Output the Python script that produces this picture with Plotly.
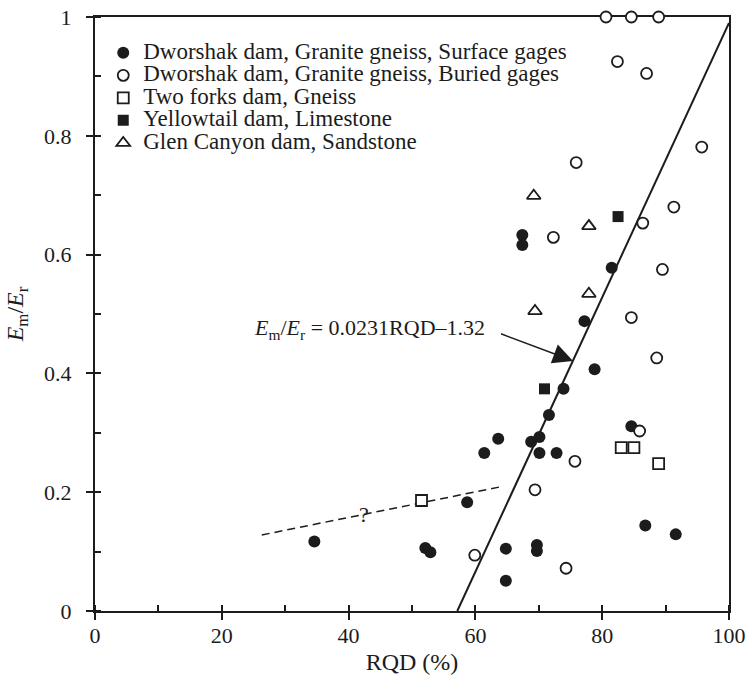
import plotly.graph_objects as go

# Deformation modulus ratio versus RQD for several dam foundations
surface_x = [67.4, 67.4, 81.5, 77.2, 78.8, 73.9, 71.6, 84.6, 63.6, 61.4, 68.8, 70.1,
             70.1, 72.8, 58.7, 34.6, 52.1, 52.9, 64.8, 69.7, 69.7, 64.8, 86.8, 91.6]
surface_y = [0.633, 0.616, 0.578, 0.488, 0.407, 0.374, 0.330, 0.311, 0.290, 0.266, 0.285, 0.293,
             0.266, 0.266, 0.183, 0.117, 0.106, 0.099, 0.105, 0.111, 0.101, 0.051, 0.144, 0.129]

buried_x = [80.6, 84.6, 88.9, 82.4, 87.0, 95.7, 75.9, 91.3, 86.4, 72.3, 89.5, 84.6,
            88.6, 85.9, 75.7, 69.4, 59.9, 74.3]
buried_y = [1.0, 1.0, 1.0, 0.925, 0.905, 0.781, 0.755, 0.680, 0.653, 0.629, 0.575, 0.494,
            0.426, 0.303, 0.252, 0.204, 0.094, 0.072]

forks_x = [51.5, 83.0, 85.0, 88.9]
forks_y = [0.186, 0.275, 0.275, 0.248]

yellowtail_x = [70.9, 82.5]
yellowtail_y = [0.374, 0.664]

glen_x = [69.2, 77.9, 77.9, 69.4]
glen_y = [0.699, 0.648, 0.534, 0.505]

series_names = [
    "Dworshak dam, Granite gneiss, Surface gages",
    "Dworshak dam, Granite gneiss, Buried gages",
    "Two forks dam, Gneiss",
    "Yellowtail dam, Limestone",
    "Glen Canyon dam, Sandstone",
]

# Fitted relation Em/Er = 0.0231 RQD - 1.32
fit_slope = 0.0231
fit_intercept = -1.32
fit_x = [-fit_intercept / fit_slope, 100]
fit_y = [fit_slope * v + fit_intercept for v in fit_x]

# Uncertain trend at low RQD
trend_x = [26.3, 64.4]
trend_y = [0.128, 0.210]

x_ticks = [0, 20, 40, 60, 80, 100]
y_ticks = [0, 0.2, 0.4, 0.6, 0.8, 1]

INK = "#1c1c1c"
FONT = "Liberation Serif"


def legend_label(text):
    # larger glyphs inside a tightly spaced legend row
    return '<span style="font-size:23px">' + text + "</span>"


fig = go.Figure()

fig.add_trace(go.Scatter(x=fit_x, y=fit_y, mode="lines", showlegend=False,
                         line=dict(color=INK, width=2), hoverinfo="skip"))
fig.add_trace(go.Scatter(x=trend_x, y=trend_y, mode="lines", showlegend=False,
                         line=dict(color=INK, width=1.5, dash="8px,5px"), hoverinfo="skip"))

fig.add_trace(go.Scatter(
    x=surface_x, y=surface_y, mode="markers", name=legend_label(series_names[0]),
    marker=dict(symbol="circle", size=12, color=INK, line=dict(width=0)),
))
fig.add_trace(go.Scatter(
    x=buried_x, y=buried_y, mode="markers", name=legend_label(series_names[1]),
    cliponaxis=False,
    marker=dict(symbol="circle", size=11, color="white", line=dict(width=1.8, color=INK)),
))
fig.add_trace(go.Scatter(
    x=forks_x, y=forks_y, mode="markers", name=legend_label(series_names[2]),
    marker=dict(symbol="square", size=11, color="white", line=dict(width=1.8, color=INK)),
))
fig.add_trace(go.Scatter(
    x=yellowtail_x, y=yellowtail_y, mode="markers", name=legend_label(series_names[3]),
    marker=dict(symbol="square", size=11, color=INK, line=dict(width=0)),
))
fig.add_trace(go.Scatter(
    x=glen_x, y=glen_y, mode="markers", name=legend_label(series_names[4]),
    marker=dict(symbol="triangle-up", size=12, color="white", line=dict(width=1.8, color=INK)),
))

# Equation label with its arrow
fig.add_annotation(
    x=61.9, y=0.475, xref="x", yref="y", showarrow=False, xanchor="right", yanchor="middle",
    text="<i>E</i><sub>m</sub>/<i>E</i><sub>r</sub> = 0.0231RQD\u20131.32",
    font=dict(family=FONT, size=22, color=INK),
)
fig.add_annotation(
    x=75.4, y=0.421, ax=63.8, ay=0.4675, xref="x", yref="y", axref="x", ayref="y",
    text="", showarrow=True, arrowhead=2, arrowsize=2.5, arrowwidth=1.6, arrowcolor=INK,
)
fig.add_annotation(
    x=42.5, y=0.163, xref="x", yref="y", showarrow=False,
    text="?", font=dict(family=FONT, size=22, color=INK),
)

axis_common = dict(
    showline=True, mirror=True, linecolor=INK, linewidth=2,
    showgrid=False, zeroline=False, layer="below traces", automargin=False,
    ticks="outside", ticklen=7, tickwidth=2, tickcolor=INK,
    tickfont=dict(family=FONT, size=22, color=INK),
)

fig.update_xaxes(
    range=[0, 100], tickvals=x_ticks,
    minor=dict(ticks="inside", dtick=10, tick0=0, ticklen=6, tickwidth=2, tickcolor=INK),
    title=dict(text="RQD (%)", font=dict(family=FONT, size=24, color=INK), standoff=6),
    ticklabelstandoff=-3,
    **axis_common,
)
fig.update_yaxes(
    range=[0, 1], tickvals=y_ticks,
    minor=dict(ticks="inside", dtick=0.1, tick0=0, ticklen=6, tickwidth=2, tickcolor=INK),
    title=dict(text="<i>E</i><sub>m</sub>/<i>E</i><sub>r</sub>",
               font=dict(family=FONT, size=24, color=INK), standoff=14),
    ticklabelstandoff=10,
    **axis_common,
)

fig.update_layout(
    width=748, height=678,
    margin=dict(l=95, r=19, t=17, b=67),
    plot_bgcolor="white", paper_bgcolor="white",
    font=dict(family=FONT, color=INK),
    legend=dict(
        x=0.013, y=0.967, xanchor="left", yanchor="top",
        bgcolor="rgba(0,0,0,0)", borderwidth=0,
        font=dict(family=FONT, size=15, color=INK),
        itemclick=False, itemdoubleclick=False,
    ),
)

fig.write_html("out.html")
